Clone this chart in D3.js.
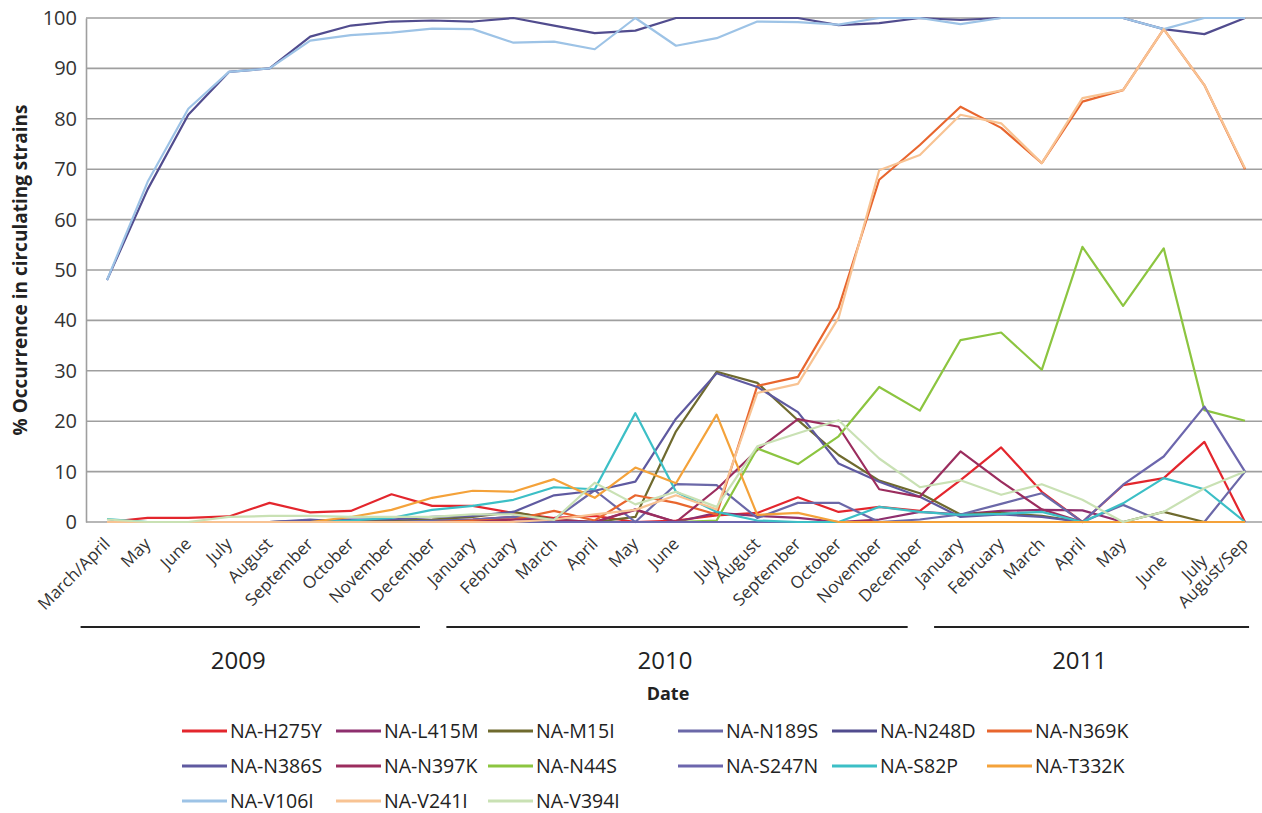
<!DOCTYPE html>
<meta charset="utf-8">
<script src="https://d3js.org/d3.v7.min.js"></script>
<style>
  body { margin: 0; background: #fff; }
  text { font-family: "Open Sans", "Noto Sans", sans-serif; }
</style>
<div id="my_dataviz"></div>
<script>

// month labels along the x axis
const months = ["March/April","May","June","July","August","September","October","November","December",
  "January","February","March","April","May","June","July","August","September","October","November","December",
  "January","February","March","April","May","June","July","August/Sep"];

// year groups under the month labels
const yearLabels = ["2009", "2010", "2011"];
const yearFirst = [0, 9, 21];
const yearLast = [8, 20, 28];

const yTicks = [0,10,20,30,40,50,60,70,80,90,100];

// % occurrence per mutation, one value per month
const H275Y = [0,0.8,0.8,1.1,3.8,1.9,2.2,5.5,3.2, 3.2,1.8,0.8,1.2,0,0.3,1.3,1.8,4.9,2.0,3.0,2.2, 8.3,14.8,6.0,0,7.3,8.7,15.9,0];
const L415M = [0,0,0,0,0,0,0,0,0.3, 0.5,1.0,0.3,0,2.5,0,1.8,1.2,0.8,0,0.5,2.0, 1.5,2.2,2.4,2.3,0,0,0,0];
const M15I  = [0,0,0,0,0,0.3,0.3,0.3,0.5, 1.0,2.0,0.5,0,1.0,18,29.8,27.6,20.2,13.3,8.2,5.7, 1.5,1.8,1.2,0,0,2.0,0,0];
const N189S = [0,0,0,0,0,0.5,0,0,0.3, 0.5,1.0,0.5,6.3,0,7.5,7.3,0.8,3.8,3.8,0,0.5, 1.5,3.6,5.7,0,3.4,0,0,10];
const N248D = [48,66,80.8,89.3,90,96.3,98.5,99.3,99.5, 99.3,100,98.5,97,97.5,100,100,100,100,98.6,99,100, 99.6,100,100,100,100,97.8,96.8,100];
const N369K = [0,0,0,0,0,0,0,0,0, 0.3,0.5,2.2,0.3,5.3,3.8,1.5,27,28.8,42.5,67.9,74.8, 82.4,78.2,71.2,83.4,85.7,97.8,86.7,70];
const N386S = [0,0,0,0,0,0.3,0.5,0.5,1.0, 1.2,2.0,5.3,6.2,8.0,20.5,29.5,26.8,21.8,11.6,8.0,5.0, 1.0,1.5,1.0,0,0,0,0,0];
const N397K = [0,0,0,0,0,0,0,0,0, 0,0.5,0.5,0,2.4,0,6.5,14.3,20.4,18.9,6.5,5.0, 14.0,8.0,2.5,0,0,0,0,0];
const N44S  = [0,0,0,0,0,0,0,0,0, 0,0,0,0,0,0,0.3,14.6,11.5,17.0,26.8,22.1, 36.1,37.6,30.2,54.6,42.9,54.3,22.2,20.1];
const S247N = [0,0,0,0,0,0,0,0,0, 0,0,0,0,0,0,0,0,0,0,0,0, 0,0,0,0,7.4,13,22.9,10];
const S82P  = [0.6,0,0,0,0,0,0.3,0.8,2.4, 3.2,4.4,6.9,6.5,21.6,6.0,2.0,0.3,0,0,3.0,2.0, 1.4,1.6,2.0,0,3.7,8.7,6.5,0];
const T332K = [0,0,0,0,0,0,1.0,2.4,4.8, 6.2,6.0,8.5,4.8,10.8,7.7,21.3,1.4,1.8,0,0,0, 0,0,0,0,0,0,0,0];
const V106I = [48,67.5,82,89.3,90,95.5,96.6,97.1,97.9, 97.8,95.1,95.3,93.8,100,94.5,96,99.3,99.2,98.7,100,100, 98.8,100,100,100,100,97.8,100,100];
const V241I = [0,0,0,0,0,0,0,0,0, 0,0,0.5,1.5,2.4,5.3,2.5,25.6,27.4,40.5,69.8,72.8, 80.8,79.1,71.2,84.1,85.7,97.8,86.7,70.2];
const V394I = [0.5,0,0,1.0,1.2,1.2,1.0,1.0,1.0, 1.5,1.5,0.4,7.8,3.5,6.0,3.0,15.0,17.6,20.2,12.6,6.9, 8.3,5.4,7.5,4.4,0,2.0,6.7,10];

const seriesNames = ["NA-H275Y","NA-L415M","NA-M15I","NA-N189S","NA-N248D","NA-N369K",
  "NA-N386S","NA-N397K","NA-N44S","NA-S247N","NA-S82P","NA-T332K","NA-V106I","NA-V241I","NA-V394I"];
const seriesValues = [H275Y,L415M,M15I,N189S,N248D,N369K,N386S,N397K,N44S,S247N,S82P,T332K,V106I,V241I,V394I];
const colors = ["#e3262d","#8e2f6e","#6f6a2e","#6b68a8","#514c8e","#e8662e",
  "#5f5aa0","#9b2d5e","#8cc540","#6c66ad","#3cbfc6","#f4a23a","#9dc3e6","#f8c393","#c9e1b4"];

const series = seriesNames.map((name, k) => ({name: name, color: colors[k], values: seriesValues[k]}));

// layout
const W = 1262, H = 813;
const plotLeft = 86, plotRight = 1262, plotTop = 18, plotBottom = 522;

const svg = d3.select("#my_dataviz")
  .append("svg")
    .attr("width", W)
    .attr("height", H);

svg.append("rect").attr("width", W).attr("height", H).attr("fill", "#fff");

const x = d3.scalePoint()
  .domain(d3.range(months.length))
  .range([107, 1245]);

const y = d3.scaleLinear()
  .domain([0, 100])
  .range([plotBottom, plotTop]);

// horizontal gridlines
svg.append("g")
  .selectAll("line")
  .data(yTicks)
  .join("line")
    .attr("x1", plotLeft)
    .attr("x2", plotRight)
    .attr("y1", d => y(d))
    .attr("y2", d => y(d))
    .attr("stroke", "#9f9f9f")
    .attr("stroke-width", 1.6);

// y axis
const yAxis = svg.append("g")
  .attr("transform", `translate(${plotLeft},0)`)
  .call(d3.axisLeft(y).tickValues(yTicks).tickSize(0).tickPadding(9));
yAxis.select(".domain").attr("stroke", "#9f9f9f").attr("stroke-width", 1.6);
yAxis.selectAll("text")
  .style("font-size", "20px")
  .attr("fill", "#333");

// y title
svg.append("text")
  .attr("transform", "translate(27,270) rotate(-90)")
  .attr("text-anchor", "middle")
  .style("font-size", "19px")
  .style("font-weight", "bold")
  .attr("fill", "#222")
  .text("% Occurrence in circulating strains");

// x labels, rotated
const lowered = new Set([15, 26, 27]);
svg.append("g")
  .selectAll("text")
  .data(months)
  .join("text")
    .attr("transform", (d, i) => `translate(${x(i) + 4},${545 + (lowered.has(i) ? 17 : 0)}) rotate(-45)`)
    .attr("text-anchor", "end")
    .style("font-size", "17px")
    .attr("fill", "#333")
    .text(d => d);

// lines
const line = d3.line()
  .x((d, i) => x(i))
  .y(d => y(d));

svg.append("g")
  .selectAll("path")
  .data(series)
  .join("path")
    .attr("d", d => line(d.values))
    .attr("fill", "none")
    .attr("stroke", d => d.color)
    .attr("stroke-width", 2.2)
    .attr("stroke-linejoin", "round");

// year brackets
const step = x.step();
const years = yearLabels.map((label, k) => ({
  label: label,
  x1: x(yearFirst[k]) - 0.65 * step,
  x2: yearLast[k] === months.length - 1 ? x(yearLast[k]) + 0.1 * step : x(yearLast[k]) - 0.3 * step
}));

svg.append("g")
  .selectAll("line")
  .data(years)
  .join("line")
    .attr("x1", d => d.x1)
    .attr("x2", d => d.x2)
    .attr("y1", 627)
    .attr("y2", 627)
    .attr("stroke", "#222")
    .attr("stroke-width", 1.8);

svg.append("g")
  .selectAll("text")
  .data(years)
  .join("text")
    .attr("x", d => (d.x1 + d.x2) / 2 - 12)
    .attr("y", 669)
    .attr("text-anchor", "middle")
    .style("font-size", "24px")
    .attr("fill", "#222")
    .text(d => d.label);

svg.append("text")
  .attr("x", 668)
  .attr("y", 700)
  .attr("text-anchor", "middle")
  .style("font-size", "18px")
  .style("font-weight", "bold")
  .attr("fill", "#222")
  .text("Date");

// legend: 6 columns, 3 rows
const colX = [182, 336, 488, 678, 832, 987];
const rowY = [731, 766, 801];

const legend = svg.append("g")
  .selectAll("g")
  .data(series)
  .join("g")
    .attr("transform", (d, k) => `translate(${colX[k % 6]},${rowY[Math.floor(k / 6)]})`);

legend.append("line")
  .attr("x1", 0)
  .attr("x2", 45)
  .attr("stroke", d => d.color)
  .attr("stroke-width", 3);

legend.append("text")
  .attr("x", 48)
  .attr("dy", "0.35em")
  .style("font-size", "19.5px")
  .attr("fill", "#222")
  .text(d => d.name);

</script>
